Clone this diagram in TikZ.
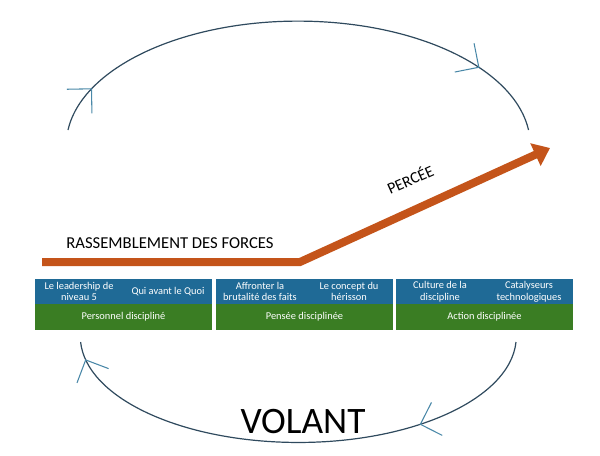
\documentclass[tikz,border=0pt]{standalone}
\usepackage{fontspec}
\setmainfont{Carlito}
\usetikzlibrary{arrows.meta,decorations.markings}
\definecolor{bl}{HTML}{1F6A96}
\definecolor{gr}{HTML}{3A7D23}
\definecolor{orng}{HTML}{C4541A}
\definecolor{ln}{HTML}{2F4A5E}
\definecolor{tip}{HTML}{4A88A8}
\begin{document}
\begin{tikzpicture}[x=0.75pt,y=-0.75pt,
 cyc/.style={ln,line width=0.9pt},
 mk/.style={postaction={decorate,decoration={markings,mark=at position #1 with {\arrow[tip,line width=0.8pt]{Straight Barb[length=13pt,width=26pt,open]}}}}},
 top/.style={text=white,font=\fontsize{7.8}{8.8}\selectfont,align=center},
 bot/.style={text=white,font=\fontsize{7.8}{8.8}\selectfont}]
\useasboundingbox (0,0) rectangle (600,455);
% cycle arcs
\draw[cyc,mk=0.09,mk=0.85] (68,130) arc[start angle=187,end angle=353,x radius=232,y radius=124];
\draw[cyc,mk=0.26,mk=0.965] (516,342) arc[start angle=3,end angle=177,x radius=218,y radius=106];
% orange arrow
\coordinate (o1) at (42,262); \coordinate (o2) at (300,262); \coordinate (o3) at (550,148);
\draw[orng,line width=6pt,-{Triangle[length=12pt,width=18pt]}] (o1) -- (o2) -- (o3);
\node[font=\fontsize{12.5}{13}\selectfont] (ras) at (170,243) {RASSEMBLEMENT DES FORCES};
\node[font=\fontsize{12}{13}\selectfont,rotate=24] (per) at (410,179) {PERCÉE};
% boxes
\foreach \x/\a/\b/\c in {35/{Le leadership de\\niveau 5}/{Qui avant le Quoi}/{Personnel discipliné},
 216/{Affronter la\\brutalité des faits}/{Le concept du\\hérisson}/{Pensée disciplinée},
 396/{Culture de la\\discipline}/{Catalyseurs\\technologiques}/{Action disciplinée}}{
 \fill[bl] (\x,279) rectangle ++(177,25);
 \fill[gr] (\x,304) rectangle ++(177,26);
 \node[top] at (\x+44,291.5) {\a};
 \node[top] at (\x+133,291.5) {\b};
 \node[bot] at (\x+88.5,317) {\c};
}
\node[font=\fontsize{28}{30}\selectfont] (vol) at (303,422) {VOLANT};
\end{tikzpicture}
\end{document}
